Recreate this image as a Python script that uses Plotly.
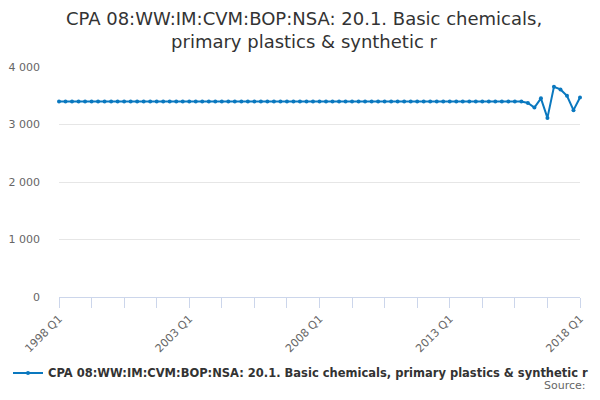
import plotly.graph_objects as go

years = list(range(1998, 2019))
quarters = []
for yr in years:
    for q in ["Q1", "Q2", "Q3", "Q4"]:
        quarters.append(f"{yr} {q}")
quarters = quarters[:81]  # 1998 Q1 .. 2018 Q1

values = [
    3400, 3400, 3400, 3400, 3400, 3400, 3400, 3400, 3400, 3400,
    3400, 3400, 3400, 3400, 3400, 3400, 3400, 3400, 3400, 3400,
    3400, 3400, 3400, 3400, 3400, 3400, 3400, 3400, 3400, 3400,
    3400, 3400, 3400, 3400, 3400, 3400, 3400, 3400, 3400, 3400,
    3400, 3400, 3400, 3400, 3400, 3400, 3400, 3400, 3400, 3400,
    3400, 3400, 3400, 3400, 3400, 3400, 3400, 3400, 3400, 3400,
    3400, 3400, 3400, 3400, 3400, 3400, 3400, 3400, 3400, 3400,
    3400, 3400, 3375, 3295, 3455, 3115, 3655, 3610, 3500, 3250,
    3470,
]

series_name = "CPA 08:WW:IM:CVM:BOP:NSA: 20.1. Basic chemicals, primary plastics & synthetic r"
title_text = "CPA 08:WW:IM:CVM:BOP:NSA: 20.1. Basic chemicals,<br>primary plastics & synthetic r"

tick_vals = quarters[::5]
tick_text = [q if q.endswith("Q1") and int(q[:4]) % 5 == 3 else "" for q in tick_vals]

y_ticks = [0, 1000, 2000, 3000, 4000]
y_text = ["0", "1 000", "2 000", "3 000", "4 000"]

color = "#0a78bf"

fig = go.Figure()
fig.add_trace(go.Scatter(
    x=quarters, y=values, mode="lines+markers", name=series_name,
    line=dict(color=color, width=2),
    marker=dict(color=color, size=4),
    cliponaxis=False,
))

# page has an 8px body margin, so the figure is 592x392
fig.update_layout(
    width=592, height=392,
    margin=dict(l=51, r=20, t=59, b=103, autoexpand=False),
    paper_bgcolor="white", plot_bgcolor="white",
    font=dict(family="DejaVu Sans", color="#666666", size=11),
    title=dict(text=title_text, x=0.5, xanchor="center", xref="container",
               y=0.957, yanchor="middle", yref="container",
               font=dict(family="DejaVu Sans", size=18, color="#333333")),
    showlegend=True,
    legend=dict(orientation="h", xref="container", yref="container",
                x=0, y=0.069, xanchor="left", yanchor="middle",
                itemwidth=30,
                font=dict(family="DejaVu Sans", size=11.5, color="#333333", weight="bold")),
    xaxis=dict(
        type="category", range=[0, 80], automargin=False,
        tickmode="array", tickvals=tick_vals, ticktext=tick_text,
        tickangle=-45, ticks="outside", ticklen=10, tickcolor="#ccd6eb",
        showline=True, linecolor="#ccd6eb", linewidth=1,
        showgrid=False, zeroline=False,
        tickfont=dict(size=11, color="#666666"),
    ),
    yaxis=dict(
        range=[0, 4000], tickmode="array", tickvals=y_ticks, ticktext=y_text,
        automargin=False,
        showgrid=True, gridcolor="#e6e6e6", gridwidth=1,
        zeroline=False, showline=False, ticks="", ticklabelstandoff=18,
        tickfont=dict(size=11, color="#666666"),
    ),
)

fig.add_annotation(text="Source:", xref="paper", yref="paper", x=1.0154, y=-0.383,
                   xanchor="right", yanchor="middle", showarrow=False,
                   font=dict(family="DejaVu Sans", size=11, color="#666666"))

fig.write_html("out.html")
